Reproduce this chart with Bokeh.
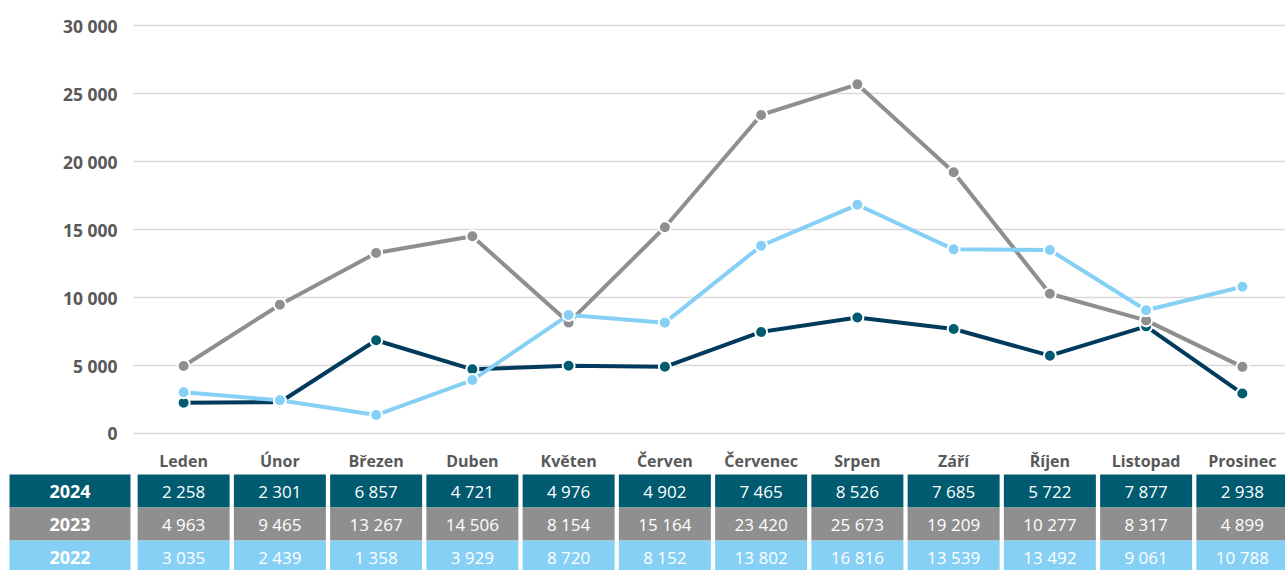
from bokeh.plotting import figure
from bokeh.models import Range1d, ColumnDataSource
from bokeh.core.properties import value
from bokeh.embed import file_html
from bokeh.resources import INLINE

months = ["Leden", "Únor", "Březen", "Duben", "Květen", "Červen", "Červenec",
          "Srpen", "Září", "Říjen", "Listopad", "Prosinec"]
years = ["2024", "2023", "2022"]
v2024 = [2258, 2301, 6857, 4721, 4976, 4902, 7465, 8526, 7685, 5722, 7877, 2938]
v2023 = [4963, 9465, 13267, 14506, 8154, 15164, 23420, 25673, 19209, 10277, 8317, 4899]
v2022 = [3035, 2439, 1358, 3929, 8720, 8152, 13802, 16816, 13539, 13492, 9061, 10788]
series = [v2024, v2023, v2022]
y_ticks = [0, 5000, 10000, 15000, 20000, 25000, 30000]

line_colors = ["#003A5C", "#8F8F8F", "#86CFF5"]
marker_colors = ["#005A70", "#8F8F8F", "#86CFF5"]
cell_colors = ["#005A70", "#8F8F8F", "#86CFF5"]


def fmt(v):
    return f"{v:,}".replace(",", " ")


# ---- layout constants (pixels inside the figure) ----
W, H = 1285, 570
PLOT_LEFT = 135          # where the first month band starts
PLOT_RIGHT = 1290        # where the last month band ends (just past the edge)
PLOT_TOP = 25            # y = 30000
PLOT_BOTTOM = 433        # y = 0
N = len(months)
CAT_PX = (PLOT_RIGHT - PLOT_LEFT) / N
Y_MAX = 30000
UNITS_PER_PX = Y_MAX / (PLOT_BOTTOM - PLOT_TOP)
ROW_PX = 33
TABLE_TOP = 474

x_start = -PLOT_LEFT / CAT_PX
x_end = (W - PLOT_LEFT) / CAT_PX
y_top = Y_MAX + PLOT_TOP * UNITS_PER_PX
y_bottom = -(H - PLOT_BOTTOM) * UNITS_PER_PX

p = figure(width=W, height=H, x_range=Range1d(x_start, x_end),
           y_range=Range1d(y_bottom, y_top),
           output_backend="svg", toolbar_location=None,
           min_border_left=0, min_border_right=0, min_border_top=0,
           min_border_bottom=0)
p.axis.visible = False
p.grid.visible = False
p.outline_line_color = None
p.background_fill_color = "white"

# table rows use their own vertical scale: row r is centred on r
r_top = -(TABLE_TOP + ROW_PX / 2) / ROW_PX
r_bottom = (H - TABLE_TOP - ROW_PX / 2) / ROW_PX
p.extra_y_ranges = {"table": Range1d(start=r_bottom, end=r_top)}

FONT = value("Open Sans")
LABEL_COLOR = "#595959"
xs = [i + 0.5 for i in range(N)]

# horizontal gridlines
p.segment(x0=[-2 / CAT_PX] * len(y_ticks), x1=[x_end] * len(y_ticks),
          y0=y_ticks, y1=y_ticks, line_color="#D9D9D9", line_width=1.3)

# y tick labels
p.text(x=[0] * len(y_ticks), y=y_ticks, text=[fmt(t) for t in y_ticks],
       x_offset=-18, text_align="right", text_baseline="middle",
       text_font=FONT, text_font_style="bold", text_color=LABEL_COLOR,
       text_font_size="17.5px")

# month labels
p.text(x=xs, y=[0] * N, text=months, y_offset=27, text_align="center",
       text_baseline="middle", text_font=FONT, text_font_style="bold",
       text_color=LABEL_COLOR, text_font_size="16px")

# series
for vals, lc, mc in zip(series, line_colors, marker_colors):
    src = ColumnDataSource(dict(x=xs, y=vals))
    p.line("x", "y", source=src, line_color=lc, line_width=4)
    p.scatter("x", "y", source=src, size=12, fill_color=mc, line_color="white",
              line_width=2)

# data table
cx, cy, cc, ct = [], [], [], []
for r, vals in enumerate(series):
    for i, v in enumerate(vals):
        cx.append(xs[i])
        cy.append(r)
        cc.append(cell_colors[r])
        ct.append(fmt(v))
cells = ColumnDataSource(dict(x=cx, y=cy, c=cc, t=ct))
p.rect("x", "y", width=92 / CAT_PX, height=1, fill_color="c", line_color=None,
       source=cells, y_range_name="table")
p.text("x", "y", text="t", source=cells, text_align="center",
       text_baseline="middle", text_color="white", text_font=FONT,
       text_font_size="17px", y_range_name="table")

lab_left = (9 - PLOT_LEFT) / CAT_PX
lab_right = (130 - PLOT_LEFT) / CAT_PX
labs = ColumnDataSource(dict(x=[(lab_left + lab_right) / 2] * 3, y=[0, 1, 2],
                             c=cell_colors, t=years))
p.rect("x", "y", width=lab_right - lab_left, height=1, fill_color="c",
       line_color=None, source=labs, y_range_name="table")
p.text("x", "y", text="t", source=labs, text_align="center",
       text_baseline="middle", text_color="white", text_font=FONT,
       text_font_style="bold", text_font_size="18px", y_range_name="table")

open("out.html", "w").write(file_html(p, INLINE))
